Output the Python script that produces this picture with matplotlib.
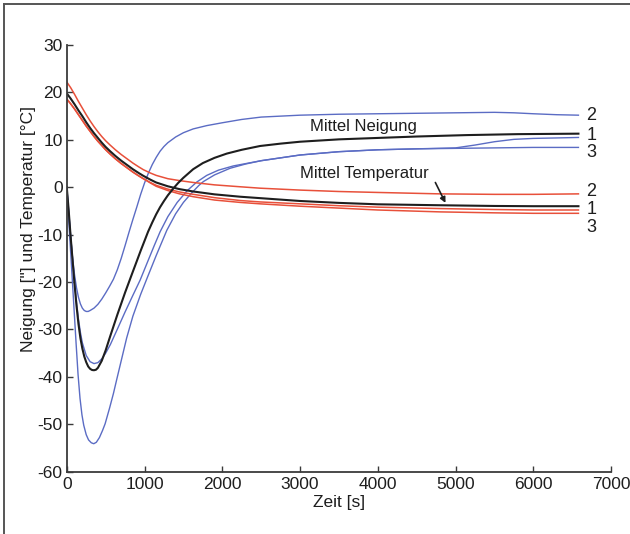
import matplotlib
matplotlib.use("Agg")
import matplotlib.pyplot as plt
from matplotlib.lines import Line2D

plt.rcParams["font.family"] = ["Liberation Sans", "DejaVu Sans"]
plt.rcParams["axes.unicode_minus"] = False

# ---- Neigung (tilt) curves, degrees ----
t_n2 = [0, 25, 50, 75, 100, 125, 150, 175, 200, 225, 250, 275, 300, 350, 400, 450, 500, 550,
        600, 650, 700, 750, 800, 850, 900, 950, 1000, 1050, 1100, 1150, 1200, 1250, 1300, 1400,
        1500, 1625, 1800, 2000, 2250, 2500, 3000, 3500, 4000, 4500, 5000, 5500, 5750, 6000,
        6300, 6580]
n2 = [0, -5.5, -10.5, -15, -18.5, -21.2, -23.2, -24.6, -25.5, -26.0, -26.2, -26.2, -26.0,
      -25.5, -24.7, -23.6, -22.3, -20.9, -19.4, -17.4, -15.0, -12.3, -9.5, -6.8, -4.2, -1.5,
      0.9, 3.0, 4.8, 6.3, 7.6, 8.6, 9.4, 10.6, 11.5, 12.3, 13.0, 13.6, 14.3, 14.8, 15.2, 15.4,
      15.5, 15.6, 15.7, 15.8, 15.7, 15.5, 15.3, 15.2]

t_n1 = [0, 25, 50, 75, 100, 125, 150, 175, 200, 250, 300, 350, 400, 450, 500, 560, 643, 750,
        850, 943, 1050, 1125, 1200, 1300, 1420, 1550, 1672, 1800, 1950, 2143, 2500, 3000, 3500,
        4000, 4500, 5000, 5250, 5500, 5750, 6000, 6300, 6580]
n1 = [0, -5, -10.3, -15.2, -20, -24.2, -27.8, -30.6, -32.8, -35.5, -36.8, -37.2, -37.0, -36.2,
      -35.0, -33.2, -30.2, -26.3, -22.8, -19.6, -15.3, -12.3, -9.4, -6.2, -3.2, -0.7, 1.1, 2.5,
      3.6, 4.5, 5.6, 6.8, 7.5, 7.9, 8.1, 8.3, 8.9, 9.6, 10.1, 10.3, 10.4, 10.5]

t_n3 = [0, 20, 40, 60, 80, 100, 120, 145, 170, 195, 218, 250, 280, 315, 347, 380, 420, 460,
        493, 550, 600, 643, 700, 770, 850, 950, 1037, 1150, 1286, 1400, 1500, 1600, 1700, 1757,
        1900, 2100, 2300, 2500, 3000, 3500, 4000, 4500, 5000, 5500, 6000, 6580]
n3 = [0, -5.5, -11, -16.5, -22, -27.5, -33, -39.5, -44.5, -48.0, -50.2, -52.2, -53.3, -53.9,
      -54.1, -53.8, -52.8, -51.3, -49.9, -46.6, -43.5, -40.5, -36.6, -31.8, -27.2, -22.6,
      -19.0, -14.4, -9.1, -5.6, -3.2, -1.3, 0.4, 1.2, 2.6, 4.0, 4.9, 5.6, 6.8, 7.5, 7.9, 8.1,
      8.2, 8.3, 8.4, 8.4]

t_nm = [0, 25, 50, 75, 100, 125, 150, 175, 200, 225, 250, 275, 300, 325, 350, 375, 400, 450,
        500, 557, 650, 750, 836, 900, 950, 1000, 1045, 1100, 1150, 1200, 1250, 1300, 1368, 1432,
        1500, 1625, 1750, 1900, 2058, 2250, 2486, 2750, 3000, 3500, 4000, 4500, 5145, 5800,
        6580]
nm = [0, -5, -10.5, -15.5, -20.5, -25, -28.8, -31.8, -34.0, -35.7, -36.9, -37.8, -38.3, -38.55,
      -38.6, -38.5, -38.1, -36.6, -34.4, -31.5, -26.9, -22.2, -18.4, -15.6, -13.4, -11.3, -9.4,
      -7.4, -5.7, -4.2, -2.9, -1.7, -0.3, 0.9, 2.0, 3.8, 5.1, 6.2, 7.1, 7.9, 8.7, 9.2, 9.6,
      10.1, 10.4, 10.7, 11.0, 11.2, 11.3]

# ---- Temperatur curves, deg C ----
t_temp = [0, 50, 100, 150, 200, 250, 300, 350, 400, 450, 500, 557, 625, 700, 775, 850, 925, 985,
          1075, 1150, 1300, 1450, 1628, 1900, 2229, 2486, 3000, 3500, 4000, 4801, 5500, 6000,
          6580]
temp2 = [22.2, 21.0, 19.6, 18.1, 16.7, 15.3, 14.0, 12.8, 11.7, 10.7, 9.8, 8.9, 7.9, 6.9, 6.0,
         5.1, 4.3, 3.7, 3.0, 2.5, 1.8, 1.4, 1.0, 0.5, 0.1, -0.2, -0.6, -0.9, -1.1, -1.4, -1.5,
         -1.5, -1.4]
temp1 = [18.6, 17.6, 16.5, 15.3, 14.1, 12.9, 11.8, 10.7, 9.7, 8.8, 7.9, 7.0, 6.0, 5.0, 4.1, 3.2,
         2.4, 1.8, 1.0, 0.4, -0.4, -1.0, -1.5, -2.2, -2.8, -3.1, -3.5, -3.9, -4.2, -4.5, -4.7,
         -4.8, -4.8]
temp3 = [18.6, 17.6, 16.5, 15.3, 14.1, 12.9, 11.8, 10.7, 9.7, 8.8, 7.9, 7.0, 6.0, 5.0, 4.1, 3.2,
         2.4, 1.8, 0.9, 0.2, -0.7, -1.4, -2.0, -2.7, -3.2, -3.5, -4.0, -4.4, -4.8, -5.2, -5.4,
         -5.5, -5.5]
tempm = [19.8, 18.7, 17.5, 16.2, 15.0, 13.7, 12.5, 11.4, 10.4, 9.4, 8.5, 7.6, 6.6, 5.6, 4.7,
         3.8, 3.0, 2.4, 1.6, 1.0, 0.2, -0.4, -0.9, -1.5, -2.0, -2.3, -2.9, -3.3, -3.6, -3.8,
         -3.95, -4.0, -4.0]

# end-of-curve labels: (text, value)
end_labels_n = [("2", 15.2), ("1", 11.0), ("3", 7.4)]
end_labels_t = [("2", -0.9), ("1", -4.6), ("3", -8.4)]

xticks = [0, 1000, 2000, 3000, 4000, 5000, 6000, 7000]
yticks = [-60, -50, -40, -30, -20, -10, 0, 10, 20, 30]

BLUE = "#5b6cc4"
RED = "#e8503a"
BLACK = "#1e1e1e"
AXC = "#3a3a3a"
TXT = "#1e1e1e"

fig = plt.figure(figsize=(6.30, 5.34), dpi=100)
ax = fig.add_axes([0.106, 0.1167, 0.864, 0.799])

for tt, vv in [(t_n2, n2), (t_n1, n1), (t_n3, n3)]:
    ax.plot(tt, vv, color=BLUE, lw=1.0, solid_joinstyle="round")
for vv in [temp2, temp1, temp3]:
    ax.plot(t_temp, vv, color=RED, lw=1.1, solid_joinstyle="round")
ax.plot(t_nm, nm, color=BLACK, lw=1.5, solid_joinstyle="round")
ax.plot(t_temp, tempm, color=BLACK, lw=1.5, solid_joinstyle="round")

ax.set_xlim(0, 7000)
ax.set_ylim(-60, 30)
ax.set_xticks(xticks)
ax.set_yticks(yticks)
ax.tick_params(direction="in", length=4, width=1.0, color=AXC, labelsize=12.5,
               labelcolor=TXT)
ax.tick_params(axis="x", pad=4)
ax.tick_params(axis="y", pad=3)
for side in ["top", "right"]:
    ax.spines[side].set_visible(False)
for side in ["left", "bottom"]:
    ax.spines[side].set_color(AXC)
    ax.spines[side].set_linewidth(1.3)

ax.set_xlabel("Zeit [s]", fontsize=12.5, color=TXT, labelpad=2)
fig.text(0.046, 1 - 229 / 534, 'Neigung ["] und Temperatur [°C]', rotation=90,
         ha="center", va="center", fontsize=12.5, color=TXT)

for txt, v in end_labels_n + end_labels_t:
    ax.text(6680, v, txt, ha="left", va="center", fontsize=13, color=TXT)

ax.text(3130, 12.9, "Mittel Neigung", ha="left", va="center", fontsize=12, color=TXT)
ax.text(3000, 2.9, "Mittel Temperatur", ha="left", va="center", fontsize=12, color=TXT)
ax.annotate("", xy=(4870, -3.3), xytext=(4740, 1.0),
            arrowprops=dict(arrowstyle="-|>", color=BLACK, lw=1.2,
                            mutation_scale=8, shrinkA=0, shrinkB=0))

# frame along the top and left edges of the figure
fig.add_artist(Line2D([4.3 / 630, 4.3 / 630], [0, 1 - 4.3 / 534], transform=fig.transFigure,
                      color="#555555", lw=1.4))
fig.add_artist(Line2D([4.3 / 630, 1], [1 - 4.3 / 534, 1 - 4.3 / 534], transform=fig.transFigure,
                      color="#555555", lw=1.4))

fig.savefig("out.png", dpi=100, facecolor="white")
